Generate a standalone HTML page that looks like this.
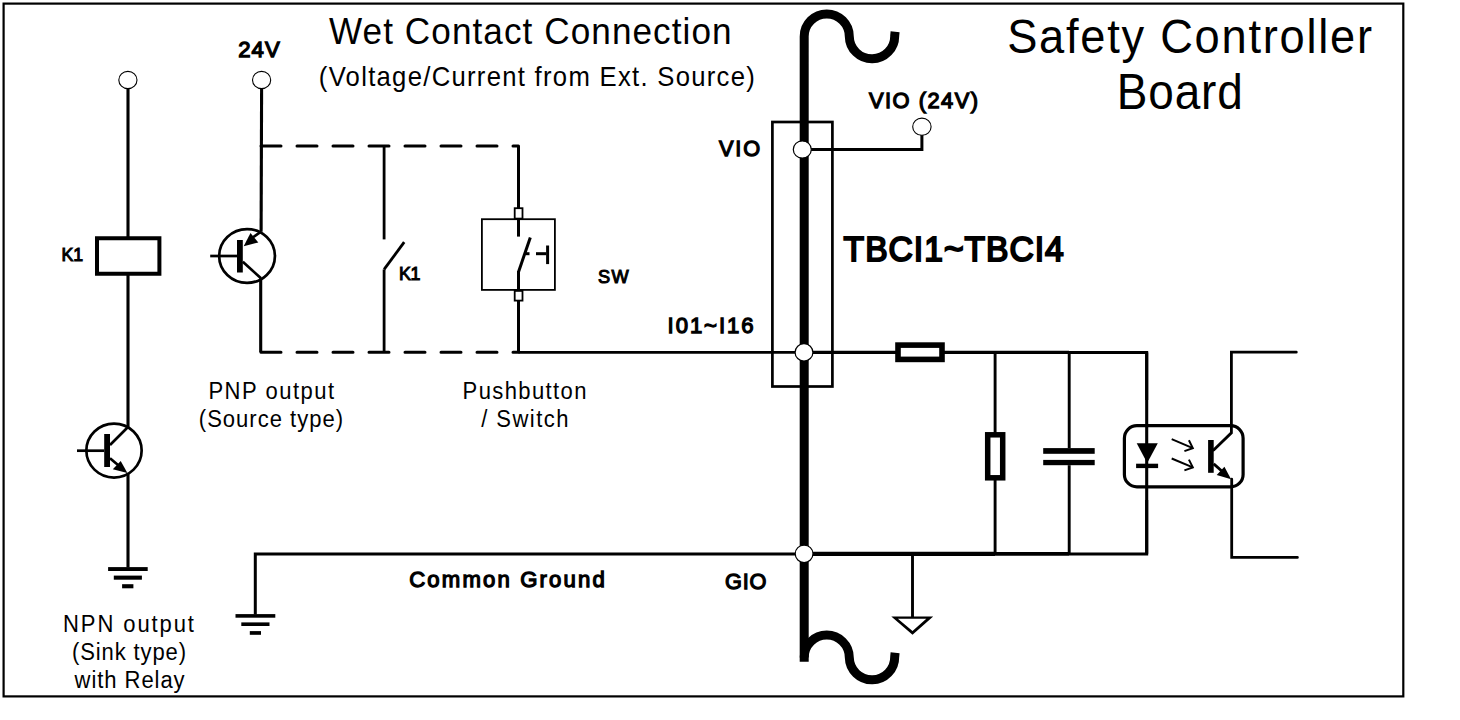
<!DOCTYPE html>
<html><head><meta charset="utf-8"><style>
html,body{margin:0;padding:0;background:#fff;width:1460px;height:720px;overflow:hidden}
svg{display:block}
text{font-family:"Liberation Sans",sans-serif;fill:#000}
</style></head><body>
<svg width="1460" height="720" viewBox="0 0 1460 720">
<g stroke="#000" fill="#000">
<rect x="3.6" y="3.6" width="1399.7" height="692.8" fill="none" stroke-width="2.2"/>
<line x1="128" y1="89" x2="128" y2="238" stroke-width="3.1" stroke-linecap="butt"/>
<rect x="97" y="238.25" width="62.4" height="35.5" fill="none" stroke-width="4"/>
<line x1="128" y1="274" x2="128" y2="427" stroke-width="3.1" stroke-linecap="butt"/>
<ellipse cx="114" cy="450.55" rx="27.65" ry="27.0" fill="none" stroke-width="2.7"/>
<rect x="104.2" y="434" width="5.8" height="33" stroke="none"/>
<line x1="77" y1="450.7" x2="104.2" y2="450.7" stroke-width="2.7" stroke-linecap="butt"/>
<line x1="110" y1="445" x2="128" y2="427" stroke-width="2.7" stroke-linecap="butt"/>
<line x1="110" y1="458.3" x2="121" y2="467.5" stroke-width="2.7" stroke-linecap="butt"/>
<polygon points="127.4,472.9 112.8,469.2 120.7,461.1" stroke="none"/>
<line x1="128" y1="473" x2="128" y2="567.5" stroke-width="3.1" stroke-linecap="butt"/>
<rect x="108.1" y="567.1" width="39.6" height="3.9" stroke="none"/>
<rect x="113.8" y="575.6" width="28.1" height="4.1" stroke="none"/>
<rect x="122.1" y="584.2" width="11.3" height="4.1" stroke="none"/>
<ellipse cx="127.9" cy="80" rx="9.1" ry="8.6" fill="#fff" stroke-width="1.1"/>
<line x1="261.6" y1="89" x2="261.1" y2="231.7" stroke-width="3.1" stroke-linecap="butt"/>
<ellipse cx="247.04" cy="255.96" rx="27.9" ry="26.9" fill="none" stroke-width="2.7"/>
<rect x="237" y="240" width="5.8" height="32.5" stroke="none"/>
<line x1="210.2" y1="256" x2="237" y2="256" stroke-width="2.7" stroke-linecap="butt"/>
<line x1="252" y1="238" x2="261" y2="231.7" stroke-width="2.7" stroke-linecap="butt"/>
<polygon points="243.7,246.2 250.5,233.1 258.3,242.5" stroke="none"/>
<line x1="242.8" y1="261.8" x2="261" y2="278.3" stroke-width="2.7" stroke-linecap="butt"/>
<line x1="260.7" y1="278.3" x2="260.7" y2="352.3" stroke-width="3.1" stroke-linecap="butt"/>
<ellipse cx="261.6" cy="80" rx="9.1" ry="8.6" fill="#fff" stroke-width="1.1"/>
<line x1="261" y1="146.1" x2="518.5" y2="146.1" stroke-width="3" stroke-dasharray="20 16" stroke-linecap="round"/>
<line x1="261" y1="352.3" x2="518.5" y2="352.3" stroke-width="3" stroke-dasharray="20 16" stroke-linecap="round"/>
<line x1="384.1" y1="146" x2="384.1" y2="239.4" stroke-width="2.8" stroke-linecap="butt"/>
<line x1="384.1" y1="269.4" x2="384.1" y2="352.3" stroke-width="2.8" stroke-linecap="butt"/>
<line x1="384.1" y1="269.4" x2="404.2" y2="242.2" stroke-width="2.8" stroke-linecap="butt"/>
<line x1="518.5" y1="146" x2="518.5" y2="208.2" stroke-width="3" stroke-linecap="butt"/>
<rect x="481.9" y="219.2" width="73" height="70.7" fill="none" stroke-width="1.8"/>
<line x1="518.5" y1="219" x2="518.5" y2="236.6" stroke-width="3" stroke-linecap="butt"/>
<line x1="518.5" y1="272" x2="530.3" y2="237.4" stroke-width="3" stroke-linecap="butt"/>
<line x1="518.5" y1="271" x2="518.5" y2="291" stroke-width="3" stroke-linecap="butt"/>
<line x1="518.5" y1="300.6" x2="518.5" y2="352.3" stroke-width="3" stroke-linecap="butt"/>
<line x1="525.7" y1="253.7" x2="529.5" y2="253.7" stroke-width="3" stroke-linecap="butt"/>
<line x1="536" y1="253.7" x2="546.3" y2="253.7" stroke-width="3" stroke-linecap="butt"/>
<line x1="547.6" y1="245.5" x2="547.6" y2="264.1" stroke-width="3" stroke-linecap="butt"/>
<rect x="514.7" y="208.2" width="7.8" height="10.4" fill="#fff" stroke-width="1.8"/>
<rect x="514.7" y="290.9" width="7.8" height="9.7" fill="#fff" stroke-width="1.8"/>
<line x1="518.5" y1="352.4" x2="804" y2="352.4" stroke-width="2.9" stroke-linecap="butt"/>
<line x1="804" y1="352.4" x2="1069" y2="352.4" stroke-width="3.3" stroke-linecap="butt"/>
<polyline points="1069,352.4 1146.7,352.4 1146.7,400" fill="none" stroke-width="3.0"/>
<path d="M804.2,661.7 L804.2,36.4 A22.55,22.55 0 0 1 849.3,36.4 A22.7,22.7 0 0 0 894.7,35.8 L895.1,31.7" fill="none" stroke-width="9"/>
<path d="M804.2,657.6 A22.55,22.55 0 0 1 849.3,657.6 A22.7,22.7 0 0 0 894.7,656.8 L895.1,652.7" fill="none" stroke-width="9"/>
<rect x="772.4" y="122" width="60" height="264.5" fill="none" stroke-width="2.7"/>
<polyline points="804,149.5 921.9,149.5 921.9,135" fill="none" stroke-width="3"/>
<ellipse cx="921.9" cy="126.7" rx="9.2" ry="8.6" fill="#fff" stroke-width="1.1"/>
<ellipse cx="802.3" cy="149.5" rx="9.0" ry="8.6" fill="#fff" stroke-width="1.2"/>
<rect x="898" y="345.1" width="44" height="14.3" fill="#fff" stroke-width="5.6"/>
<line x1="995.1" y1="352.4" x2="995.1" y2="553.8" stroke-width="2.9" stroke-linecap="butt"/>
<rect x="987.7" y="434.8" width="15" height="43" fill="#fff" stroke-width="5.5"/>
<line x1="1069.2" y1="352.4" x2="1069.2" y2="448.1" stroke-width="2.9" stroke-linecap="butt"/>
<line x1="1069.2" y1="465.2" x2="1069.2" y2="553.8" stroke-width="2.9" stroke-linecap="butt"/>
<rect x="1043.2" y="448.1" width="51.5" height="5.7" stroke="none"/>
<rect x="1043.2" y="459.9" width="51.5" height="5.3" stroke="none"/>
<line x1="1146.7" y1="352.4" x2="1146.7" y2="553.8" stroke-width="3.1" stroke-linecap="butt"/>
<polyline points="255.3,614.5 255.3,554 804,554" fill="none" stroke-width="3.0"/>
<line x1="804" y1="553.9" x2="995" y2="553.9" stroke-width="4.1" stroke-linecap="butt"/>
<line x1="995" y1="553.9" x2="1069" y2="553.9" stroke-width="3.7" stroke-linecap="butt"/>
<polyline points="1069,553.9 1146.7,553.9 1146.7,500" fill="none" stroke-width="3.0"/>
<rect x="235.5" y="614.1" width="39.8" height="3.6" stroke="none"/>
<rect x="241.3" y="622.4" width="28.2" height="3.6" stroke="none"/>
<rect x="249.8" y="631.1" width="11.2" height="3.7" stroke="none"/>
<ellipse cx="804" cy="352.4" rx="8.9" ry="8.7" fill="#fff" stroke-width="1.2"/>
<ellipse cx="804.1" cy="553.8" rx="8.9" ry="8.7" fill="#fff" stroke-width="1.2"/>
<line x1="912.5" y1="554" x2="912.5" y2="617" stroke-width="2.9" stroke-linecap="butt"/>
<path d="M891.3,616.4 L933.2,616.4 L912.5,634.7 Z M897.9,618.7 L926.3,618.7 L912.5,630.9 Z" fill-rule="evenodd" stroke="none"/>
<rect x="1124.4" y="425.7" width="118.7" height="61.2" rx="12.5" fill="none" stroke-width="3.2"/>
<polygon points="1136.7,443.3 1157.8,443.3 1147.2,463" stroke="none"/>
<rect x="1136.1" y="463.7" width="22" height="4.4" stroke="none"/>
<polyline points="1171.7,439.2 1192.8,448.1" fill="none" stroke-width="2.0"/>
<polyline points="1188.9,440.3 1192.8,448.1 1184.4,451.1" fill="none" stroke-width="2.0" stroke-linejoin="miter"/>
<polyline points="1171.7,458.5 1192.8,467.4" fill="none" stroke-width="2.0"/>
<polyline points="1188.9,459.6 1192.8,467.4 1184.4,470.4" fill="none" stroke-width="2.0" stroke-linejoin="miter"/>
<rect x="1208.1" y="440" width="5.6" height="32.8" stroke="none"/>
<polyline points="1213.7,450 1231.4,432.8 1231.4,352.2 1296.3,352.2" fill="none" stroke-width="2.8" stroke-linecap="round"/>
<line x1="1213.7" y1="463.9" x2="1224" y2="473" stroke-width="2.8" stroke-linecap="butt"/>
<polygon points="1231.1,479.2 1216.7,475 1224.4,466.7" stroke="none"/>
<polyline points="1231.7,479.2 1231.7,557.4 1297.4,557.4" fill="none" stroke-width="2.8" stroke-linecap="round"/>
</g>
<g stroke="none">
<text transform="matrix(0.93,0,0,1,329.00,43.80)" font-size="37.79" font-weight="400" textLength="432.90" lengthAdjust="spacing">Wet Contact Connection</text>
<text transform="matrix(0.93,0,0,1,318.80,85.50)" font-size="27.62" font-weight="400" textLength="468.82" lengthAdjust="spacing">(Voltage/Current from Ext. Source)</text>
<text transform="matrix(0.93,0,0,1,1007.20,52.90)" font-size="48.69" font-weight="400" textLength="392.26" lengthAdjust="spacing">Safety Controller</text>
<text transform="matrix(0.93,0,0,1,1116.80,108.90)" font-size="49.42" font-weight="400" textLength="135.48" lengthAdjust="spacing">Board</text>
<text transform="matrix(0.97,0,0,1,238.20,57.15)" font-size="22.83" font-weight="400" stroke="#000" stroke-width="1.29" textLength="42.89" lengthAdjust="spacing">24V</text>
<text transform="matrix(0.97,0,0,1,61.60,261.28)" font-size="18.27" font-weight="400" stroke="#000" stroke-width="1.03" textLength="22.27" lengthAdjust="spacing">K1</text>
<text transform="matrix(0.97,0,0,1,399.00,280.38)" font-size="18.40" font-weight="400" stroke="#000" stroke-width="1.04" textLength="22.06" lengthAdjust="spacing">K1</text>
<text transform="matrix(0.97,0,0,1,598.00,283.27)" font-size="18.80" font-weight="400" stroke="#000" stroke-width="1.06" textLength="31.75" lengthAdjust="spacing">SW</text>
<text transform="matrix(0.97,0,0,1,719.00,156.07)" font-size="22.43" font-weight="400" stroke="#000" stroke-width="1.27" textLength="42.47" lengthAdjust="spacing">VIO</text>
<text transform="matrix(0.97,0,0,1,869.00,108.26)" font-size="22.56" font-weight="400" stroke="#000" stroke-width="1.28" textLength="112.37" lengthAdjust="spacing">VIO (24V)</text>
<text transform="matrix(0.97,0,0,1,843.60,260.62)" font-size="34.65" font-weight="400" stroke="#000" stroke-width="1.96" textLength="227.01" lengthAdjust="spacing">TBCI1~TBCI4</text>
<text transform="matrix(0.97,0,0,1,667.60,333.35)" font-size="22.83" font-weight="400" stroke="#000" stroke-width="1.29" textLength="88.66" lengthAdjust="spacing">I01~I16</text>
<text transform="matrix(0.97,0,0,1,725.00,589.07)" font-size="22.43" font-weight="400" stroke="#000" stroke-width="1.27" textLength="42.68" lengthAdjust="spacing">GIO</text>
<text transform="matrix(0.97,0,0,1,409.20,587.25)" font-size="22.83" font-weight="400" stroke="#000" stroke-width="1.29" textLength="201.65" lengthAdjust="spacing">Common Ground</text>
<text transform="matrix(0.93,0,0,1,208.40,398.50)" font-size="23.69" font-weight="400" textLength="135.27" lengthAdjust="spacing">PNP output</text>
<text transform="matrix(0.93,0,0,1,198.80,426.50)" font-size="23.69" font-weight="400" textLength="155.05" lengthAdjust="spacing">(Source type)</text>
<text transform="matrix(0.93,0,0,1,462.60,398.80)" font-size="23.69" font-weight="400" textLength="133.12" lengthAdjust="spacing">Pushbutton</text>
<text transform="matrix(0.93,0,0,1,481.20,426.70)" font-size="23.69" font-weight="400" textLength="93.76" lengthAdjust="spacing">/ Switch</text>
<text transform="matrix(0.93,0,0,1,63.00,631.90)" font-size="23.69" font-weight="400" textLength="140.86" lengthAdjust="spacing">NPN output</text>
<text transform="matrix(0.93,0,0,1,72.00,660.00)" font-size="23.69" font-weight="400" textLength="122.58" lengthAdjust="spacing">(Sink type)</text>
<text transform="matrix(0.93,0,0,1,74.60,687.50)" font-size="23.69" font-weight="400" textLength="118.28" lengthAdjust="spacing">with Relay</text>
</g>
</svg>
</body></html>
